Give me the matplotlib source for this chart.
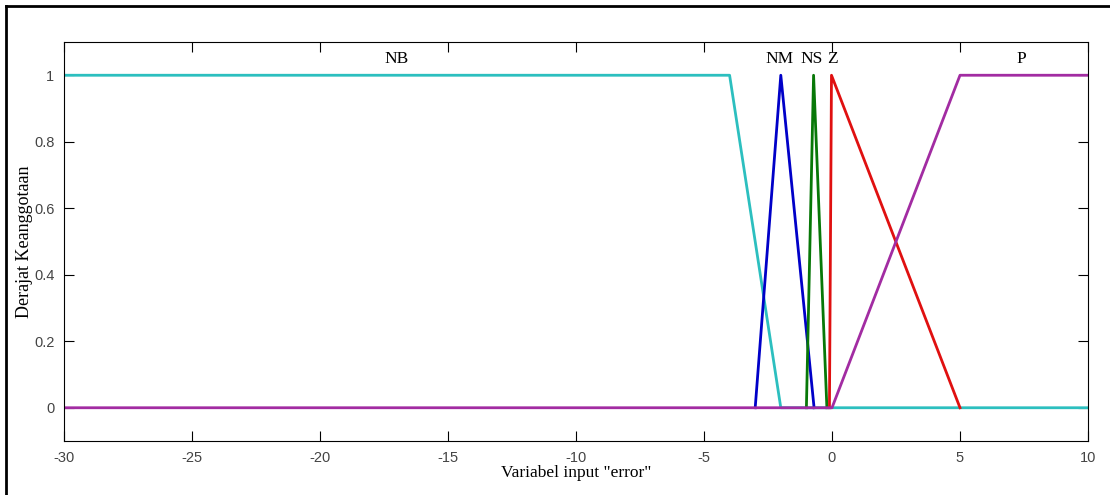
import numpy as np
import matplotlib
matplotlib.use("Agg")
import matplotlib.pyplot as plt
from matplotlib.lines import Line2D

plt.rcParams["axes.unicode_minus"] = False

# membership functions for input "error" (breakpoints)
nb_x = [-30, -4, -2, 10]
nb_y = [1, 1, 0, 0]
nm_x = [-3, -2, -0.7]
nm_y = [0, 1, 0]
ns_x = [-1, -0.72, -0.2]
ns_y = [0, 1, 0]
z_x = [-0.1, -0.02, 5]
z_y = [0, 1, 0]
p_x = [-30, 0, 5, 10]
p_y = [0, 0, 1, 1]

names = ["NB", "NM", "NS", "Z", "P"]
label_x = [-17, -2.05, -0.8, 0.0, 7.4]

colors = {"NB": "#2cbfbf", "NM": "#0000c8", "NS": "#087808",
          "Z": "#e01010", "P": "#a22ca2"}

fig = plt.figure(figsize=(11.1, 4.95), dpi=100)
ax = fig.add_axes([64 / 1110, 54 / 495, 1024 / 1110, 399 / 495])

# draw order: the purple zero line sits on top of the cyan one left of 0
ax.plot(nb_x, nb_y, color=colors["NB"], lw=2)
ax.plot(nm_x, nm_y, color=colors["NM"], lw=2)
ax.plot(ns_x, ns_y, color=colors["NS"], lw=2)
ax.plot(z_x, z_y, color=colors["Z"], lw=2)
ax.plot(p_x, p_y, color=colors["P"], lw=2)

serif = "Liberation Serif"
for name, lx in zip(names, label_x):
    ax.text(lx, 1.05, name, ha="center", va="center", family=serif, fontsize=12.5)

ax.set_xlim(-30, 10)
ax.set_ylim(-0.1, 1.1)
ax.set_xticks(np.arange(-30, 11, 5))
ax.set_yticks([0, 0.2, 0.4, 0.6, 0.8, 1])
ax.set_yticklabels(["0", "0.2", "0.4", "0.6", "0.8", "1"])
ax.tick_params(direction="in", top=True, right=True, length=7, width=0.8,
               labelsize=10.5, labelcolor="#444444", pad=7)
for lab in ax.get_xticklabels() + ax.get_yticklabels():
    lab.set_family("Liberation Sans")
for sp in ax.spines.values():
    sp.set_linewidth(0.8)

ax.set_xlabel('Variabel input "error"', family=serif, fontsize=12.5, labelpad=0)
ax.set_ylabel("Derajat Keanggotaan", family=serif, fontsize=13, labelpad=1)

# outer frame of the screenshot
fig.add_artist(Line2D([6 / 1110, 6 / 1110], [0, 1 - 6 / 495], color="black",
                      lw=2, transform=fig.transFigure))
fig.add_artist(Line2D([6 / 1110, 1], [1 - 6 / 495, 1 - 6 / 495], color="black",
                      lw=2, transform=fig.transFigure))

fig.savefig("out.png", dpi=100)
plt.close(fig)
